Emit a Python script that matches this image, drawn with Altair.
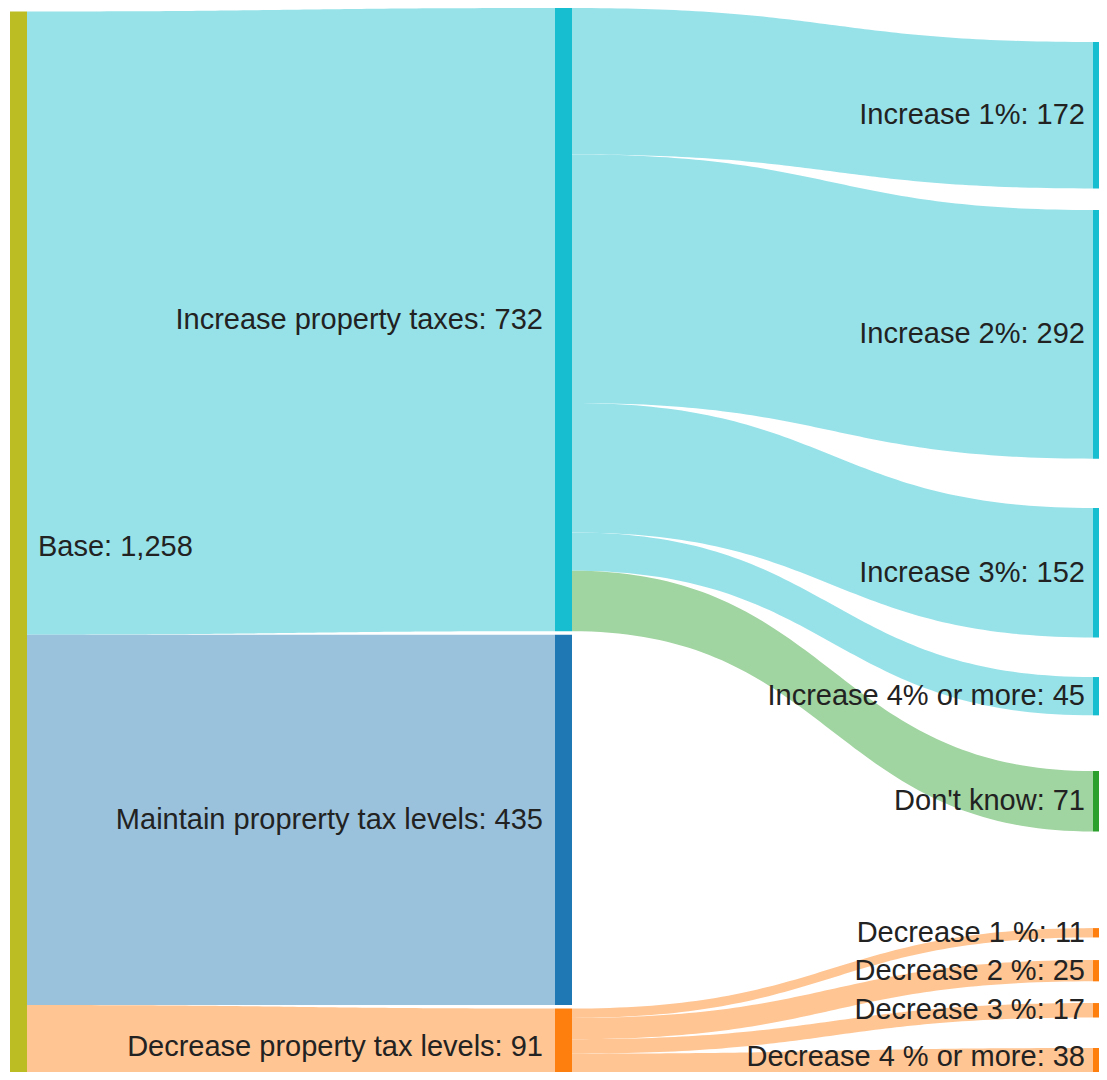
import altair as alt
import pandas as pd
import numpy as np

# ---------------- data ----------------
node_names = [
    "Base",
    "Increase property taxes",
    "Maintain proprerty tax levels",
    "Decrease property tax levels",
    "Increase 1%",
    "Increase 2%",
    "Increase 3%",
    "Increase 4% or more",
    "Don't know",
    "Decrease 1 %",
    "Decrease 2 %",
    "Decrease 3 %",
    "Decrease 4 % or more",
]
node_colors = [
    "#bcbd22", "#17becf", "#1f77b4", "#ff7f0e",
    "#17becf", "#17becf", "#17becf", "#17becf", "#2ca02c",
    "#ff7f0e", "#ff7f0e", "#ff7f0e", "#ff7f0e",
]
link_source = [
    "Base", "Base", "Base",
    "Increase property taxes", "Increase property taxes", "Increase property taxes",
    "Increase property taxes", "Increase property taxes",
    "Decrease property tax levels", "Decrease property tax levels",
    "Decrease property tax levels", "Decrease property tax levels",
]
link_target = [
    "Increase property taxes", "Maintain proprerty tax levels", "Decrease property tax levels",
    "Increase 1%", "Increase 2%", "Increase 3%", "Increase 4% or more", "Don't know",
    "Decrease 1 %", "Decrease 2 %", "Decrease 3 %", "Decrease 4 % or more",
]
link_value = [732, 435, 91, 172, 292, 152, 45, 71, 11, 25, 17, 38]

# ---------------- layout settings (pixels) ----------------
W, H = 1091, 1064                  # visible plot area
COL_X = [2, 547, 1085]             # left edge of each node column
NODE_W = 17
EXT_H = 1078                       # full height of the tallest column
COL_PAD = 3.5                      # padding between nodes of the fullest column
# vertical spacing placed above each node inside its column
NODE_SPACE = [3.5, 0, 3.5, 3.5, 34, 21.6, 49.4, 39.6, 55.7, 96.6, 22.6, 21.7, 30.5]
LABEL_GAP = 12
LABEL_MAX_Y = H - 15               # keep labels inside the visible area
LINK_ALPHA = 0.45

# ---------------- sankey layout ----------------
idx = {n: i for i, n in enumerate(node_names)}
nodes = [dict(index=i, name=n, src=[], tgt=[]) for i, n in enumerate(node_names)]
links = []
for k, (s, t, v) in enumerate(zip(link_source, link_target, link_value)):
    L = dict(index=k, source=nodes[idx[s]], target=nodes[idx[t]], value=v)
    links.append(L)
    L["source"]["src"].append(L)
    L["target"]["tgt"].append(L)
for nd in nodes:
    nd["value"] = max(sum(l["value"] for l in nd["src"]), sum(l["value"] for l in nd["tgt"]))

# column (depth) of each node
current, depth = list(nodes), 0
while current:
    nxt = []
    for nd in current:
        nd["layer"] = depth
        for l in nd["src"]:
            if all(l["target"] is not q for q in nxt):
                nxt.append(l["target"])
    depth += 1
    current = nxt
ncol = depth
columns = [[nd for nd in nodes if nd["layer"] == c] for c in range(ncol)]

ky = min((EXT_H - (len(c) - 1) * COL_PAD) / sum(n["value"] for n in c) for c in columns[:2])
for col in columns:
    y = 0.0
    for nd in col:
        y += NODE_SPACE[nd["index"]]
        nd["y0"] = y
        nd["y1"] = y + nd["value"] * ky
        nd["x0"] = COL_X[nd["layer"]]
        nd["x1"] = nd["x0"] + NODE_W
        y = nd["y1"]
for l in links:
    l["width"] = l["value"] * ky
for nd in nodes:
    nd["src"].sort(key=lambda l: l["target"]["y0"])
    nd["tgt"].sort(key=lambda l: l["source"]["y0"])
    ys, yt = nd["y0"], nd["y0"]
    for l in nd["src"]:
        l["sy"] = ys
        ys += l["width"]
    for l in nd["tgt"]:
        l["ty"] = yt
        yt += l["width"]


def lighten(hex_color, a):
    h = hex_color.lstrip("#")
    r, g, b = (int(h[i:i + 2], 16) for i in (0, 2, 4))
    r, g, b = (round(255 - a * (255 - c)) for c in (r, g, b))
    return f"#{r:02x}{g:02x}{b:02x}"


color_of = dict(zip(node_names, node_colors))

# link ribbons (horizontal cubic bezier edges)
rows = []
ts = np.linspace(0, 1, 80)
for l in links:
    xa, xb = l["source"]["x1"], l["target"]["x0"]
    col = lighten(color_of[l["target"]["name"]], LINK_ALPHA)
    for t in ts:
        fx = 1.5 * t * (1 - t) + t ** 3
        fy = 3 * t ** 2 - 2 * t ** 3
        top = l["sy"] + (l["ty"] - l["sy"]) * fy
        rows.append(dict(link=l["index"], x=xa + (xb - xa) * fx, ytop=top,
                         ybot=top + l["width"], color=col))
link_df = pd.DataFrame(rows)

node_df = pd.DataFrame([
    dict(name=n["name"], x0=n["x0"], x1=n["x1"], y0=n["y0"], y1=n["y1"],
         yc=min((n["y0"] + n["y1"]) / 2, LABEL_MAX_Y), color=color_of[n["name"]],
         label=f"{n['name']}: {n['value']:,}", layer=n["layer"],
         lx=(n["x1"] + LABEL_GAP - 1) if n["layer"] == 0 else (n["x0"] - LABEL_GAP))
    for n in nodes
])
# keep right-column labels where the original page puts them
node_df.loc[node_df.layer == ncol - 1, "lx"] = 1090 - LABEL_GAP - 1

xscale = alt.Scale(domain=[0, W], nice=False, zero=False)
yscale = alt.Scale(domain=[0, H], nice=False, zero=False, reverse=True)

link_layer = alt.Chart(link_df).mark_area(orient="vertical", clip=True).encode(
    x=alt.X("x:Q", scale=xscale, axis=None),
    y=alt.Y("ytop:Q", scale=yscale, axis=None),
    y2="ybot:Q",
    color=alt.Color("color:N", scale=None),
    detail="link:N",
)

node_layer = alt.Chart(node_df).mark_rect(clip=True).encode(
    x=alt.X("x0:Q", scale=xscale, axis=None),
    x2="x1:Q",
    y=alt.Y("y0:Q", scale=yscale, axis=None),
    y2="y1:Q",
    color=alt.Color("color:N", scale=None),
)

text_props = dict(font="Liberation Sans", fontSize=29, color="#222222", baseline="middle")
left_text = alt.Chart(node_df).transform_filter("datum.layer == 0").mark_text(align="left", **text_props).encode(
    x=alt.X("lx:Q", scale=xscale, axis=None),
    y=alt.Y("yc:Q", scale=yscale, axis=None),
    text="label:N",
)
right_text = alt.Chart(node_df).transform_filter("datum.layer > 0").mark_text(align="right", **text_props).encode(
    x=alt.X("lx:Q", scale=xscale, axis=None),
    y=alt.Y("yc:Q", scale=yscale, axis=None),
    text="label:N",
)

chart = alt.layer(link_layer, node_layer, left_text, right_text).properties(
    width=W, height=H, padding=0, autosize=alt.AutoSizeParams(type="none"),
).configure_view(stroke=None)

chart.save("out.html", embed_options={"renderer": "svg", "actions": False})
